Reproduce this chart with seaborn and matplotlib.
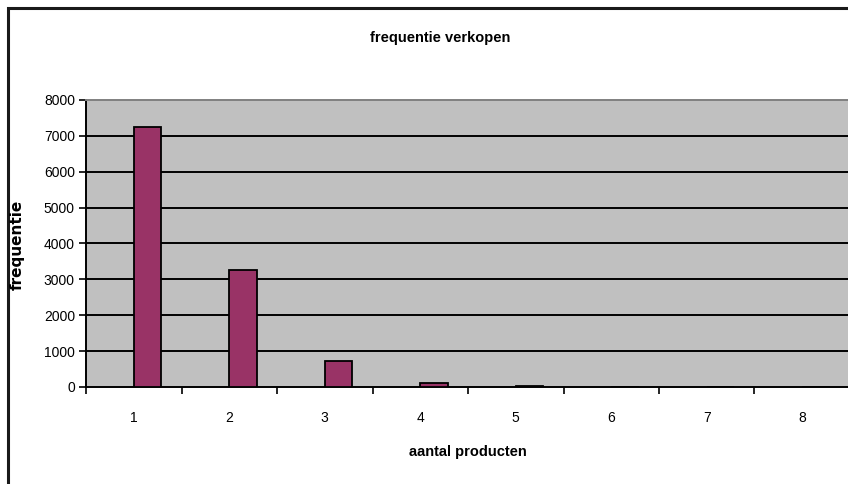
import numpy as np
import pandas as pd
import matplotlib
matplotlib.use("Agg")
import matplotlib.pyplot as plt
from matplotlib.patches import Rectangle
import seaborn as sns

# Number of products per sale and how often each count occurred
aantal_producten = ["1", "2", "3", "4", "5", "6", "7", "8"]
frequentie = [7260, 3260, 730, 120, 40, 8, 2, 1]

titel = "frequentie verkopen"
x_titel = "aantal producten"
y_titel = "frequentie"
y_ticks = [0, 1000, 2000, 3000, 4000, 5000, 6000, 7000, 8000]

sns.set_theme(style="white")
plt.rcParams["font.family"] = ["Liberation Sans", "DejaVu Sans"]
plt.rcParams["text.color"] = "black"

# Two series per category: an empty one on the left, the sales on the right
df = pd.DataFrame({
    "aantal": aantal_producten * 2,
    "frequentie": [np.nan] * len(aantal_producten) + frequentie,
    "reeks": ["leeg"] * len(aantal_producten) + ["verkopen"] * len(aantal_producten),
})

fig = plt.figure(figsize=(8.48, 4.84), dpi=100)
fig.patch.set_facecolor("white")
ax = fig.add_axes([86 / 848, 1 - 387 / 484, 764 / 848, 287 / 484])
ax.set_facecolor("#C0C0C0")

sns.barplot(data=df, x="aantal", y="frequentie", hue="reeks",
            hue_order=["leeg", "verkopen"],
            palette={"leeg": "#9999FF", "verkopen": "#993366"},
            saturation=1, width=0.58, dodge=True, edgecolor="black",
            linewidth=1.3, legend=False, ax=ax, zorder=3)

ax.set_ylim(0, 8000)
ax.set_xlim(-0.5, len(aantal_producten) - 0.5)
ax.set_yticks(y_ticks)
ax.set_yticklabels([str(v) for v in y_ticks], fontsize=10, color="black")
for v in y_ticks[1:-1]:
    ax.axhline(v, color="black", lw=1.4, zorder=1)

# Category labels centred, tick marks on the category boundaries
ax.set_xticks(np.arange(-0.5, len(aantal_producten), 1))
ax.set_xticklabels([""] * (len(aantal_producten) + 1))
ax.set_xticks(np.arange(len(aantal_producten)), minor=True)
ax.set_xticklabels(aantal_producten, minor=True, fontsize=10, color="black")
ax.tick_params(axis="x", which="major", direction="out", length=5, width=1.2,
               color="black", bottom=True)
ax.tick_params(axis="x", which="minor", length=0, pad=17, bottom=True)
ax.tick_params(axis="y", direction="out", length=5, width=1.2, color="black",
               left=True, pad=3)

for side in ["left", "bottom"]:
    ax.spines[side].set_color("black")
    ax.spines[side].set_linewidth(1.4)
ax.spines["top"].set_color("#808080")
ax.spines["top"].set_linewidth(1.4)
ax.spines["right"].set_visible(False)

ax.set_xlabel("")
ax.set_ylabel("")
fig.text(440 / 848, 1 - 38 / 484, titel, ha="center", va="center",
         fontsize=10.5, fontweight="bold", color="black")
fig.text(468 / 848, 1 - 452 / 484, x_titel, ha="center", va="center",
         fontsize=10.5, fontweight="bold", color="black")
fig.text(17 / 848, 1 - 245 / 484, y_titel, ha="center", va="center",
         fontsize=11, fontweight="bold", rotation=90, color="black",
         family="DejaVu Sans")

# Chart frame, running off the right and bottom edges
fig.patches.append(Rectangle((7.5 / 848, -0.2), 2.0, 1.2 - 8.5 / 484,
                             transform=fig.transFigure, fill=False,
                             edgecolor="#1a1a1a", linewidth=2.2))

fig.savefig("out.png", dpi=100)
